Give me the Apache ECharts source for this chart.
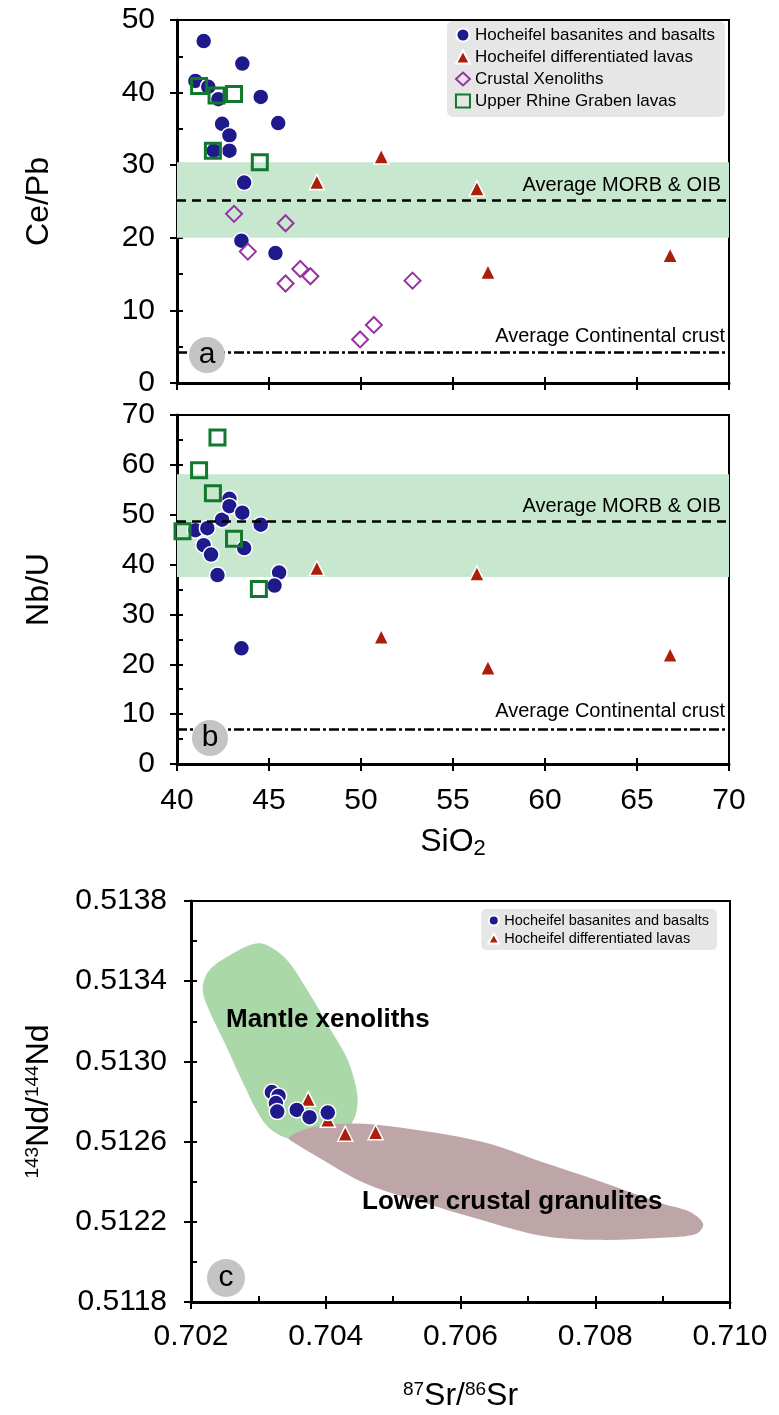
<!DOCTYPE html>
<html>
<head>
<meta charset="utf-8">
<script src="https://cdn.jsdelivr.net/npm/echarts@6/dist/echarts.min.js"></script>
<style>
  html, body { margin: 0; padding: 0; background: #fff; }
  #main { width: 779px; height: 1415px; }
</style>
</head>
<body>
<div id="main"></div>
<script>
var FONT = '"Liberation Sans", Arial, Helvetica, sans-serif';

// series names
var nameBasalt = 'Hocheifel basanites and basalts';
var nameDiff = 'Hocheifel differentiated lavas';
var nameXeno = 'Crustal Xenoliths';
var nameUrg = 'Upper Rhine Graben lavas';

// panel a : Ce/Pb vs SiO2
var basaltSiO2A = [41.45, 41.0, 41.7, 42.25, 43.55, 44.55, 42.45, 42.85, 42.85, 42.0, 45.5, 43.65, 43.5, 45.35];
var basaltCePb  = [47.1, 41.6, 40.8, 39.1, 44.0, 39.4, 35.7, 34.1, 32.0, 32.0, 35.8, 27.6, 19.6, 17.9];
var diffSiO2    = [47.6, 51.1, 56.3, 56.9, 66.8];
var diffCePb    = [27.7, 31.2, 26.8, 15.3, 17.6];
var xenoSiO2    = [43.1, 43.85, 45.9, 45.9, 46.7, 47.25, 49.95, 50.7, 52.8];
var xenoCePb    = [23.3, 18.1, 22.0, 13.7, 15.7, 14.7, 6.0, 8.0, 14.1];
var urgSiO2A    = [41.2, 42.15, 43.1, 41.95, 44.5];
var urgCePb     = [40.9, 39.6, 39.8, 32.0, 30.4];
var morbCePb = 25.2, morbBandCePb = [20.0, 30.4], crustCePb = 4.3;

// panel b : Nb/U vs SiO2
var basaltSiO2B = [41.0, 41.65, 41.45, 41.85, 42.2, 42.45, 42.85, 42.85, 43.55, 43.65, 44.55, 45.55, 45.3, 43.5];
var basaltNbU   = [46.9, 47.3, 43.9, 42.0, 37.9, 49.0, 53.2, 51.7, 50.4, 43.3, 48.0, 38.4, 35.8, 23.2];
var diffNbU     = [39.3, 25.5, 38.2, 19.3, 21.9];
var urgSiO2B    = [42.2, 41.2, 41.95, 40.3, 43.1, 44.45];
var urgNbU      = [65.5, 58.9, 54.3, 46.7, 45.2, 35.1];
var morbNbU = 48.7, morbBandNbU = [37.5, 58.1], crustNbU = 6.9;

// panel c : 143Nd/144Nd vs 87Sr/86Sr
var basaltSr = [0.7032, 0.7033, 0.70326, 0.70328, 0.70357, 0.70376, 0.70403];
var basaltNd = [0.512847, 0.512828, 0.512792, 0.51275, 0.512758, 0.512722, 0.512745];
var diffSr   = [0.70374, 0.70403, 0.70429, 0.70474];
var diffNd   = [0.512812, 0.512709, 0.512639, 0.512647];
// outlines of the fields
var mantleField = [
  [0.702925, 0.513586], [0.702625, 0.513539], [0.702275, 0.513456], [0.702175, 0.513373],
  [0.702225, 0.51329], [0.702525, 0.513074], [0.702775, 0.512891], [0.703025, 0.512725],
  [0.703225, 0.51265], [0.703525, 0.512612], [0.704025, 0.512642], [0.704325, 0.512672],
  [0.70445, 0.512742], [0.704465, 0.512842], [0.704325, 0.513008], [0.704075, 0.513157],
  [0.703725, 0.513356], [0.703425, 0.513506], [0.703125, 0.513581]
];
var crustField = [
  [0.70345, 0.51262], [0.7038, 0.51267], [0.7044, 0.51269], [0.7051, 0.51267],
  [0.7063, 0.5126], [0.7072, 0.5125], [0.708, 0.51241], [0.709, 0.51229],
  [0.7094, 0.51225], [0.7096, 0.51219], [0.7095, 0.51214], [0.709, 0.51212],
  [0.708, 0.51211], [0.7072, 0.51213], [0.7063, 0.51221], [0.7056, 0.51228],
  [0.7046, 0.51239], [0.7039, 0.51252], [0.70355, 0.51259]
];

function zip(xs, ys) {
  return xs.map(function (x, i) { return [x, ys[i]]; });
}

var sym = {
  basalt: { symbol: 'circle', symbolSize: 16, itemStyle: { color: '#1f1a8c', borderColor: '#fff', borderWidth: 1.5, opacity: 1 } },
  diff:   { symbol: 'triangle', symbolSize: 15, itemStyle: { color: '#aa1e0a', borderColor: '#fff', borderWidth: 1.5, opacity: 1 } },
  xeno:   { symbol: 'diamond', symbolSize: 16, itemStyle: { color: 'rgba(0,0,0,0)', borderColor: '#9b30a3', borderWidth: 2, opacity: 1 } },
  urg:    { symbol: 'rect', symbolSize: 15, itemStyle: { color: 'rgba(0,0,0,0)', borderColor: '#12782e', borderWidth: 3, opacity: 1 } }
};

function scatter(name, data, xi, yi, s, z) {
  return {
    name: name, type: 'scatter', xAxisIndex: xi, yAxisIndex: yi, z: z || 2,
    symbol: s.symbol, symbolSize: s.symbolSize, itemStyle: s.itemStyle,
    data: data, emphasis: { disabled: true }
  };
}

// shaded band + average lines
function refLines(xi, yi, band, morb, crust, crustDist) {
  return {
    type: 'scatter', xAxisIndex: xi, yAxisIndex: yi, data: [], silent: true, z: 1,
    markArea: {
      silent: true, itemStyle: { color: '#c8e7cf' },
      data: [[{ yAxis: band[0] }, { yAxis: band[1] }]]
    },
    markLine: {
      silent: true, symbol: 'none', animation: false,
      data: [
        { yAxis: morb, lineStyle: { type: [9, 6], width: 2.5, color: '#000' },
          label: { formatter: 'Average MORB & OIB', distance: [8, 5] } },
        { yAxis: crust, lineStyle: { type: [10, 3, 3, 3], width: 2.5, color: '#000' },
          label: { formatter: 'Average Continental crust', distance: [4, crustDist] } }
      ],
      label: { position: 'insideEndTop', fontSize: 20, color: '#000', fontFamily: FONT }
    }
  };
}

function blob(pts, color, xi, yi, z, blend) {
  return {
    type: 'custom', xAxisIndex: xi, yAxisIndex: yi, silent: true, z: z,
    data: [pts[0]],
    renderItem: function (params, api) {
      var style = { fill: color };
      if (blend) style.blend = blend;
      return {
        type: 'polygon',
        shape: { points: pts.map(function (p) { return api.coord(p); }), smooth: 0.35 },
        style: style
      };
    }
  };
}

var tickLabel = { color: '#000', fontSize: 30, fontFamily: FONT };

function axisMain(type, grid, min, max, interval, opts) {
  var ax = {
    type: 'value', gridIndex: grid, min: min, max: max, interval: interval,
    position: type === 'x' ? 'bottom' : 'left',
    axisLine: { show: true, onZero: false, lineStyle: { color: '#000', width: 3 } },
    axisTick: { show: true, inside: false, length: 7, lineStyle: { color: '#000', width: 2 } },
    axisLabel: Object.assign({ show: true, margin: 22 }, tickLabel),
    splitLine: { show: false }
  };
  return Object.assign(ax, opts || {});
}

function axisInner(type, grid, min, max, interval) {
  return {
    type: 'value', gridIndex: grid, min: min, max: max, interval: interval,
    position: type === 'x' ? 'bottom' : 'left',
    axisLine: { show: false, onZero: false },
    axisTick: { show: true, inside: true, length: 6, lineStyle: { color: '#000', width: 2 } },
    axisLabel: { show: false },
    splitLine: { show: false }
  };
}

var titleRich = {
  t: { fontSize: 32, lineHeight: 34, fontFamily: FONT, color: '#000', verticalAlign: 'top' },
  sup: { fontSize: 19, lineHeight: 19, fontFamily: FONT, color: '#000', verticalAlign: 'top' },
  sub: { fontSize: 22, lineHeight: 22, fontFamily: FONT, color: '#000', verticalAlign: 'bottom', padding: [20, 0, 0, 0] }
};

var myChart = echarts.init(document.getElementById('main'), null, { renderer: 'canvas' });

var option = {
  backgroundColor: '#fff',
  animation: false,
  textStyle: { fontFamily: FONT },
  grid: [
    { left: 177, right: 50, top: 20, height: 363, show: true, borderColor: '#000', borderWidth: 2, backgroundColor: 'transparent' },
    { left: 177, right: 50, top: 415, height: 349, show: true, borderColor: '#000', borderWidth: 2, backgroundColor: 'transparent' },
    { left: 191, right: 49, top: 901, height: 401, show: true, borderColor: '#000', borderWidth: 2, backgroundColor: 'transparent' }
  ],
  xAxis: [
    axisMain('x', 0, 40, 70, 5, { axisLabel: { show: false } }),
    axisInner('x', 0, 40, 70, 5),
    axisMain('x', 1, 40, 70, 5, {
      axisLabel: Object.assign({ margin: 22 }, tickLabel),
      name: '{t|SiO}{sub|2}', nameLocation: 'middle', nameGap: 62,
      nameTextStyle: { rich: titleRich }
    }),
    axisInner('x', 1, 40, 70, 5),
    axisMain('x', 2, 0.702, 0.710, 0.002, {
      axisLabel: Object.assign({ margin: 20, formatter: function (v) { return v.toFixed(3); } }, tickLabel),
      name: '{sup|87}{t|Sr/}{sup|86}{t|Sr}', nameLocation: 'middle', nameGap: 78,
      nameTextStyle: { rich: titleRich }
    }),
    axisInner('x', 2, 0.702, 0.710, 0.001)
  ],
  yAxis: [
    axisMain('y', 0, 0, 50, 10, {
      name: '{t|Ce/Pb}', nameLocation: 'middle', nameGap: 120, nameRotate: 90,
      nameTextStyle: { rich: titleRich }
    }),
    axisInner('y', 0, 0, 50, 5),
    axisMain('y', 1, 0, 70, 10, {
      name: '{t|Nb/U}', nameLocation: 'middle', nameGap: 120, nameRotate: 90,
      nameTextStyle: { rich: titleRich }
    }),
    axisInner('y', 1, 0, 70, 5),
    axisMain('y', 2, 0.5118, 0.5138, 0.0004, {
      axisLabel: Object.assign({ margin: 24, formatter: function (v) { return v.toFixed(4); } }, tickLabel),
      name: '{sup|143}{t|Nd/}{sup|144}{t|Nd}', nameLocation: 'middle', nameGap: 134, nameRotate: 90,
      nameTextStyle: { rich: titleRich }
    }),
    axisInner('y', 2, 0.5118, 0.5138, 0.0002)
  ],
  legend: [
    {
      data: [nameBasalt, nameDiff, nameXeno, nameUrg],
      orient: 'vertical', right: 54, top: 21, selectedMode: false,
      backgroundColor: '#e6e6e6', borderRadius: 6, padding: [5, 10, 7, 8],
      itemGap: 4, itemWidth: 14, itemHeight: 13,
      textStyle: { fontSize: 17, color: '#000', fontFamily: FONT, lineHeight: 18 }
    },
    {
      data: [nameBasalt, nameDiff],
      orient: 'vertical', right: 62, top: 909, selectedMode: false,
      backgroundColor: '#e6e6e6', borderRadius: 5, padding: [4, 8, 4, 6],
      itemGap: 3, itemWidth: 11, itemHeight: 10,
      textStyle: { fontSize: 14.5, color: '#000', fontFamily: FONT, lineHeight: 15 }
    }
  ],
  graphic: [
    { type: 'circle', shape: { cx: 207, cy: 355, r: 18 }, style: { fill: '#c4c4c4' }, z: 100 },
    { type: 'text', x: 207, y: 355, style: { text: 'a', fontSize: 30, fontFamily: FONT, fill: '#000', align: 'center', verticalAlign: 'middle' }, z: 101 },
    { type: 'circle', shape: { cx: 210, cy: 738, r: 18 }, style: { fill: '#c4c4c4' }, z: 100 },
    { type: 'text', x: 210, y: 738, style: { text: 'b', fontSize: 30, fontFamily: FONT, fill: '#000', align: 'center', verticalAlign: 'middle' }, z: 101 },
    { type: 'circle', shape: { cx: 226, cy: 1278, r: 19 }, style: { fill: '#c4c4c4' }, z: 100 },
    { type: 'text', x: 226, y: 1278, style: { text: 'c', fontSize: 30, fontFamily: FONT, fill: '#000', align: 'center', verticalAlign: 'middle' }, z: 101 },
    { type: 'text', x: 226, y: 1020, style: { text: 'Mantle xenoliths', fontSize: 26, fontWeight: 'bold', fontFamily: FONT, fill: '#000', verticalAlign: 'middle' }, z: 50 },
    { type: 'text', x: 362, y: 1202, style: { text: 'Lower crustal granulites', fontSize: 26, fontWeight: 'bold', fontFamily: FONT, fill: '#000', verticalAlign: 'middle' }, z: 50 }
  ],
  series: [
    // panel a
    refLines(0, 0, morbBandCePb, morbCePb, crustCePb, 5),
    scatter(nameBasalt, zip(basaltSiO2A, basaltCePb), 0, 0, sym.basalt),
    scatter(nameDiff, zip(diffSiO2, diffCePb), 0, 0, sym.diff),
    scatter(nameXeno, zip(xenoSiO2, xenoCePb), 0, 0, sym.xeno),
    scatter(nameUrg, zip(urgSiO2A, urgCePb), 0, 0, sym.urg),
    // panel b
    refLines(2, 2, morbBandNbU, morbNbU, crustNbU, 8),
    scatter(nameBasalt, zip(basaltSiO2B, basaltNbU), 2, 2, sym.basalt),
    scatter(nameDiff, zip(diffSiO2, diffNbU), 2, 2, sym.diff),
    scatter(nameUrg, zip(urgSiO2B, urgNbU), 2, 2, sym.urg),
    // panel c
    blob(mantleField, '#aad8a8', 4, 4, 1),
    blob(crustField, '#bda5a8', 4, 4, 1, 'multiply'),
    scatter(nameDiff, zip(diffSr, diffNd), 4, 4, sym.diff, 2),
    scatter(nameBasalt, zip(basaltSr, basaltNd), 4, 4, sym.basalt, 3)
  ]
};

myChart.setOption(option);
</script>
</body>
</html>
